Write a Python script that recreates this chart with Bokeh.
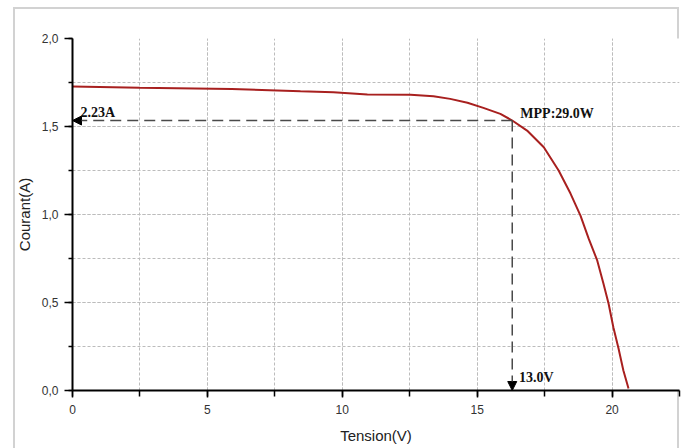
from bokeh.plotting import figure
from bokeh.models import (Range1d, SingleIntervalTicker, CustomJSTickFormatter,
                          Arrow, NormalHead, Label)
from bokeh.embed import file_html
from bokeh.resources import INLINE

# I-V curve
voltage = [0.0, 2.5, 5.9, 8.45, 9.67, 10.93, 12.53, 13.38, 14.0, 14.64, 15.23,
           15.86, 16.3, 16.85, 17.47, 18.02, 18.46, 18.83, 19.13, 19.45, 19.68,
           19.87, 20.05, 20.24, 20.42, 20.61]
current = [1.727, 1.72, 1.713, 1.70, 1.695, 1.682, 1.68, 1.672, 1.657, 1.635, 1.606,
           1.572, 1.534, 1.477, 1.382, 1.25, 1.119, 0.994, 0.864, 0.739, 0.608,
           0.494, 0.358, 0.239, 0.114, 0.011]

mpp_v = 16.3
mpp_i = 1.534
label_i = "2.23A"
label_p = "MPP:29.0W"
label_v = "13.0V"

p = figure(width=681, height=448, output_backend="svg", toolbar_location=None,
           x_range=Range1d(0, 22.5), y_range=Range1d(0, 2.0),
           min_border_left=72, min_border_top=38, min_border_right=2,
           min_border_bottom=58, background_fill_color="white",
           border_fill_color="white", border_fill_alpha=0, outline_line_color=None)
gray = "linear-gradient(#d2d2d2, #d2d2d2)"
p.styles = {
    "background-color": "white",
    "background-image": f"{gray}, {gray}, {gray}",
    "background-size": "2px 441px, 666px 2px, 2px 441px",
    "background-position": "13px 7px, 13px 7px, 677px 7px",
    "background-repeat": "no-repeat",
}

p.xaxis.ticker = SingleIntervalTicker(interval=5, num_minor_ticks=2)
p.yaxis.ticker = SingleIntervalTicker(interval=0.5, num_minor_ticks=2)
p.yaxis.formatter = CustomJSTickFormatter(code="return tick.toFixed(1).replace('.', ',')")

for ax in (p.xaxis[0], p.yaxis[0]):
    ax.axis_line_color = "black"
    ax.axis_line_width = 2
    ax.major_tick_line_color = "black"
    ax.major_tick_line_width = 1.5
    ax.minor_tick_line_color = "black"
    ax.minor_tick_line_width = 1.5
    ax.major_tick_in = 0
    ax.minor_tick_in = 0
    ax.major_label_text_font = "Liberation Sans"
    ax.major_label_text_font_size = "12px"
    ax.major_label_text_color = "#333333"
    ax.axis_label_text_font = "Liberation Sans"
    ax.axis_label_text_font_size = "15px"
    ax.axis_label_text_font_style = "normal"
    ax.axis_label_text_color = "#222222"

p.xaxis.major_tick_out = 7
p.xaxis.minor_tick_out = 6
p.yaxis.major_tick_out = 8
p.yaxis.minor_tick_out = 4
p.xaxis.major_label_standoff = 7
p.yaxis.major_label_standoff = 6
p.xaxis.axis_label = "Tension(V)"
p.yaxis.axis_label = "Courant(A)"
p.xaxis.axis_label_standoff = 10
p.yaxis.axis_label_standoff = 6

for g in (p.xgrid[0], p.ygrid[0]):
    g.grid_line_color = "#bcbcbc"
    g.grid_line_dash = "3 2"
    g.grid_line_width = 1
    g.minor_grid_line_color = "#bcbcbc"
    g.minor_grid_line_dash = "3 2"
    g.minor_grid_line_width = 1
p.ygrid.bounds = (0, 1.9)

p.line(voltage, current, line_color="#a8201f", line_width=2)

p.add_layout(Arrow(end=NormalHead(size=9, fill_color="black", line_color="black"),
                   x_start=mpp_v, y_start=mpp_i, x_end=0, y_end=mpp_i,
                   line_color="#4a4a4a", line_width=1.5, line_dash="11 6"))
p.add_layout(Arrow(end=NormalHead(size=9, fill_color="black", line_color="black"),
                   x_start=mpp_v, y_start=mpp_i, x_end=mpp_v, y_end=0,
                   line_color="#4a4a4a", line_width=1.5, line_dash="11 6"))

common = dict(text_font="Liberation Serif", text_font_style="bold",
              text_font_size="14px", text_color="#111111", text_baseline="middle")
p.add_layout(Label(x=0.3, y=1.58, text=label_i, **common))
p.add_layout(Label(x=16.6, y=1.574, text=label_p, **common))
p.add_layout(Label(x=16.55, y=0.074, text=label_v, **common))

open("out.html", "w").write(file_html(p, INLINE))
